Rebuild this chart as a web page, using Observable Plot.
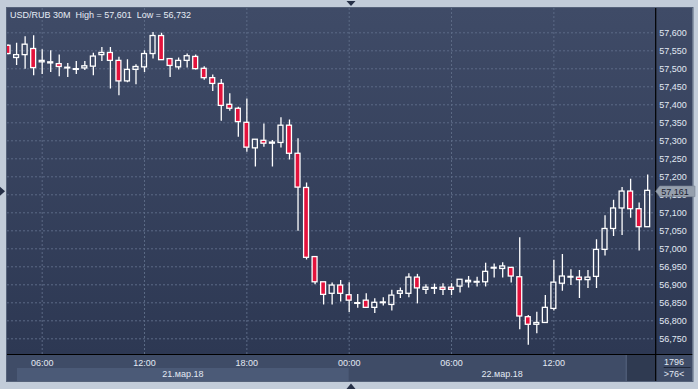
<!DOCTYPE html>
<html><head><meta charset="utf-8">
<script src="https://cdn.jsdelivr.net/npm/d3@7"></script>
<script src="https://cdn.jsdelivr.net/npm/@observablehq/plot@0.6"></script>
<style>html,body{margin:0;padding:0;background:#c2ccd9;} svg{display:block}</style>
</head><body><div id="chart"></div>
<script>
// ---------- data ----------
const symbol = "USD/RUB";
const timeframe = "30M";
const startTime = "2018-03-21T04:00:00Z";
const barMinutes = 30;
const opens  = [57.564,57.530,57.538,57.555,57.518,57.515,57.513,57.501,57.497,57.501,57.506,57.538,57.544,57.522,57.465,57.497,57.504,57.541,57.591,57.527,
                57.504,57.522,57.533,57.500,57.474,57.458,57.400,57.389,57.350,57.279,57.300,57.292,57.294,57.342,57.264,57.169,56.977,56.907,56.875,56.898,
                56.871,56.847,56.856,56.836,56.849,56.844,56.875,56.875,56.920,56.886,56.889,56.892,56.892,56.895,56.907,56.906,56.907,56.945,56.944,56.947,
                56.921,56.810,56.789,56.794,56.833,56.903,56.920,56.920,56.913,56.922,56.997,57.055,57.112,57.159,57.110,57.060];
const highs  = [57.566,57.571,57.589,57.592,57.553,57.550,57.538,57.515,57.520,57.520,57.543,57.559,57.559,57.532,57.525,57.511,57.550,57.601,57.599,57.528,
                57.530,57.541,57.538,57.506,57.483,57.470,57.431,57.393,57.416,57.303,57.347,57.301,57.364,57.358,57.306,57.183,56.977,56.907,56.905,56.912,
                56.906,56.873,56.875,56.861,56.864,56.885,56.891,56.931,56.929,56.900,56.902,56.903,56.903,56.914,56.923,56.921,56.960,56.958,56.961,56.947,
                57.031,56.815,56.824,56.870,56.968,56.984,56.942,56.940,56.940,57.025,57.092,57.135,57.170,57.193,57.127,57.205];
const lows   = [57.539,57.509,57.499,57.481,57.484,57.490,57.478,57.476,57.484,57.495,57.481,57.520,57.444,57.425,57.461,57.456,57.490,57.527,57.523,57.476,
                57.497,57.502,57.497,57.468,57.437,57.354,57.382,57.310,57.268,57.227,57.282,57.227,57.280,57.247,57.049,56.969,56.900,56.844,56.844,56.852,
                56.823,56.835,56.835,56.820,56.841,56.827,56.862,56.864,56.847,56.873,56.873,56.870,56.870,56.877,56.891,56.894,56.894,56.919,56.919,56.905,
                56.775,56.732,56.764,56.794,56.827,56.882,56.898,56.862,56.890,56.890,56.980,57.034,57.037,57.085,56.994,57.060];
const closes = [57.541,57.538,57.567,57.502,57.522,57.518,57.505,57.503,57.499,57.507,57.534,57.544,57.522,57.465,57.497,57.505,57.541,57.591,57.524,57.508,
                57.522,57.535,57.499,57.474,57.458,57.397,57.389,57.352,57.281,57.303,57.292,57.295,57.342,57.264,57.170,56.975,56.907,56.872,56.898,56.875,
                56.856,56.849,56.836,56.850,56.851,56.870,56.882,56.920,56.890,56.892,56.891,56.886,56.886,56.914,56.911,56.908,56.936,56.947,56.951,56.923,
                56.812,56.789,56.794,56.836,56.906,56.923,56.922,56.913,56.920,56.997,57.055,57.112,57.159,57.110,57.060,57.161];
const priceTicks = [56.75,56.80,56.85,56.90,56.95,57.00,57.05,57.10,57.15,57.20,57.25,57.30,57.35,57.40,57.45,57.50,57.55,57.60];
const dayStarts  = ["2018-03-21T00:00:00Z","2018-03-22T00:00:00Z"];
const dayLabels  = ["21.мар.18","22.мар.18"];
const barCountLabel = "1796";
const visibleBarsLabel = ">76<";

// ---------- helpers ----------
const ru = d3.formatLocale({decimal: ",", thousands: "\u00a0", grouping: [3], currency: ["", ""]});
const fmtPrice = ru.format(".3f");
const t0 = new Date(startTime);
const bars = opens.map((o, i) => ({
  t: new Date(+t0 + i * barMinutes * 60000), o, h: highs[i], l: lows[i], c: closes[i]
}));
const half = barMinutes * 30000;
const RED = "#e3123c", WHITE = "#ffffff";
const TXT = "#e2e9f3";
const xDomain = [new Date("2018-03-21T03:58:00Z"), new Date("2018-03-22T18:00:00Z")];
const xTicks = d3.utcHour.every(6).range(xDomain[0], xDomain[1]);

const W = 698, H = 389;
const mL = 7, mR = 42.3, mT = 8, mB = 35;

const plot = Plot.plot({
  width: W, height: H,
  marginLeft: mL, marginRight: mR, marginTop: mT, marginBottom: mB,
  style: {background: "#c2ccd9", color: TXT, fontFamily: "'Liberation Sans', Arial, sans-serif", fontSize: "9px", overflow: "visible"},
  x: {type: "utc", domain: xDomain},
  y: {domain: [56.7064, 57.6675]},
  marks: [
    Plot.gridY(priceTicks, {stroke: "#5c6a86", strokeOpacity: 1, strokeDasharray: "2,2"}),
    Plot.gridX(xTicks, {stroke: "#5c6a86", strokeOpacity: 1, strokeDasharray: "2,2"}),
    Plot.ruleX(bars, {x: "t", y1: "h", y2: d => Math.max(d.o, d.c), stroke: WHITE, strokeWidth: 1.3, clip: true}),
    Plot.ruleX(bars, {x: "t", y1: d => Math.min(d.o, d.c), y2: "l", stroke: WHITE, strokeWidth: 1.3, clip: true}),
    Plot.rect(bars, {filter: d => d.c >= d.o, x1: d => new Date(+d.t - half), x2: d => new Date(+d.t + half),
      y1: "o", y2: "c", fill: "none", stroke: WHITE, strokeWidth: 1.3, insetLeft: 1.8, insetRight: 1.8, clip: true}),
    Plot.rect(bars, {filter: d => d.c < d.o, x1: d => new Date(+d.t - half), x2: d => new Date(+d.t + half),
      y1: "o", y2: "c", fill: RED, stroke: WHITE, strokeWidth: 1.3, insetLeft: 1.8, insetRight: 1.8, clip: true}),
    Plot.axisY(priceTicks, {anchor: "right", tickSize: 0, tickPadding: 3, tickFormat: fmtPrice, label: null, fill: TXT, fontSize: 9}),
    Plot.axisX(xTicks, {anchor: "bottom", tickSize: 0, tickPadding: 5, tickFormat: d3.utcFormat("%H:%M"), label: null, fill: TXT, fontSize: 9})
  ]
});

// ---------- chrome (panel, bands, labels) ----------
const svg = d3.select(plot);
const xs = plot.scale("x"), ys = plot.scale("y");
const [x0, x1] = xs.range, [yB, yT] = ys.range;
const panelR = W - 5.5, panelB = H - 8;

const defs = svg.insert("defs", ":first-child");
const g = defs.append("linearGradient").attr("id", "bgGrad").attr("x1", 0).attr("y1", 0).attr("x2", 0).attr("y2", 1);
g.append("stop").attr("offset", "0%").attr("stop-color", "#3f4b67");
g.append("stop").attr("offset", "100%").attr("stop-color", "#2d3853");

const back = svg.insert("g", "defs + *");
back.append("rect").attr("x", x0).attr("y", yT).attr("width", panelR - x0).attr("height", yB - yT).attr("fill", "url(#bgGrad)");
back.append("rect").attr("x", x0).attr("y", yB).attr("width", panelR - x0).attr("height", panelB - yB).attr("fill", "#3f4c67");
const midnight = xs.apply(new Date(dayStarts[1]));
back.append("rect").attr("x", x0 + 10).attr("y", yB + 14).attr("width", midnight - x0 - 10).attr("height", panelB - yB - 14).attr("fill", "#4b5a77");
back.append("rect").attr("x", x1 - 29).attr("y", yB + 1).attr("width", 29).attr("height", panelB - yB - 1).attr("fill", "#2f3a51");
back.append("line").attr("x1", x1 - 29.5).attr("x2", x1 - 29.5).attr("y1", yB + 1).attr("y2", panelB).attr("stroke", "#56647e");

const fore = svg.append("g").attr("text-anchor", "start");
fore.append("line").attr("x1", x0).attr("x2", panelR).attr("y1", yB + 0.5).attr("y2", yB + 0.5).attr("stroke", "#000").attr("stroke-width", 1.2);
fore.append("line").attr("x1", x1).attr("x2", x1).attr("y1", yT).attr("y2", panelB).attr("stroke", "#000").attr("stroke-width", 1.2);
fore.append("rect").attr("x", x0 - 0.5).attr("y", yT - 0.5).attr("width", panelR - x0 + 1).attr("height", panelB - yT + 1)
  .attr("fill", "none").attr("stroke", "#55627a");

// date labels centred on visible part of each day
dayStarts.forEach((ds, i) => {
  const a = Math.max(xs.apply(new Date(ds)), x0 + 10);
  const b = Math.min(xs.apply(d3.utcDay.offset(new Date(ds), 1)), x1);
  fore.append("text").attr("x", (a + b) / 2).attr("y", yB + 22.5).attr("text-anchor", "middle")
    .attr("fill", TXT).attr("font-size", 9).text(dayLabels[i]);
});

// bottom-right counters
const cx = (x1 + panelR) / 2;
fore.append("text").attr("x", cx).attr("y", yB + 11).attr("text-anchor", "middle").attr("fill", TXT).attr("font-size", 9).text(barCountLabel);
fore.append("line").attr("x1", x1 + 8).attr("x2", panelR - 2).attr("y1", yB + 13.5).attr("y2", yB + 13.5).attr("stroke", "#1f2738");
fore.append("text").attr("x", cx).attr("y", yB + 23).attr("text-anchor", "middle").attr("fill", TXT).attr("font-size", 9).text(visibleBarsLabel);

// title
const hi = d3.max(highs), lo = d3.min(lows);
fore.append("text").attr("x", 10).attr("y", 18.3).attr("text-anchor", "start").attr("fill", "#e6ecf5").attr("font-size", 9)
  .attr("xml:space", "preserve")
  .text(`${symbol} ${timeframe}  High = ${fmtPrice(hi)}  Low = ${fmtPrice(lo)}`);

// last price box
const last = closes[closes.length - 1];
const ly = ys.apply(last) + 1;
fore.append("path").attr("d", `M${x1},${ly} L${x1 + 4},${ly - 5.3} L${W - 3},${ly - 5.3} L${W - 3},${ly + 5.3} L${x1 + 4},${ly + 5.3} Z`)
  .attr("fill", "#959fad").attr("stroke", "#7b8594").attr("stroke-width", 0.6);
fore.append("text").attr("x", x1 + 5.5).attr("y", ly + 3.3).attr("text-anchor", "start").attr("fill", "#1a2130").attr("font-size", 9).text(fmtPrice(last));

// small markers
const mx = 351;
fore.append("path").attr("d", `M${mx - 4.5},1 L${mx + 4.5},1 L${mx},6 Z`).attr("fill", "#263047");
fore.append("path").attr("d", `M${mx - 4.5},${H} L${mx + 4.5},${H} L${mx},${H - 5.5} Z`).attr("fill", "#263047");
fore.append("path").attr("d", `M0,${ly - 4.5} L0,${ly + 4.5} L5,${ly} Z`).attr("fill", "#263047");

document.getElementById("chart").appendChild(plot);
</script>
</body></html>
